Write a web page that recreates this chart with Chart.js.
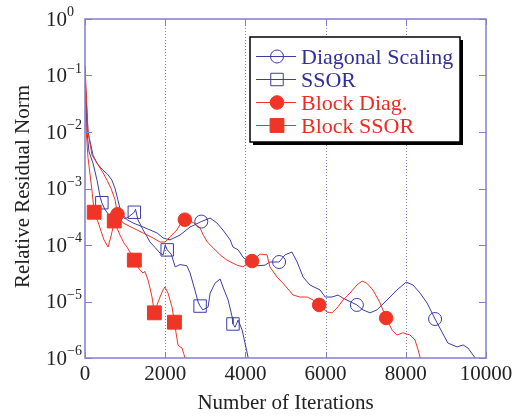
<!DOCTYPE html>
<html>
<head>
<meta charset="utf-8">
<script src="https://cdn.jsdelivr.net/npm/chart.js@4.4.1/dist/chart.umd.min.js"></script>
<style>
  html, body { margin: 0; padding: 0; background: #fff; }
</style>
</head>
<body>
<canvas id="chartArea" width="520" height="416"></canvas>
<script>
// Convergence history: iteration count vs. relative residual norm
var diagIter  = [0, 75, 200, 300, 450, 560, 670, 750, 820, 870, 950, 1050, 1200, 1450, 1800, 1950, 2120, 2370, 2620, 2900,
                 3120, 3290, 3440, 3620, 3690, 3820, 3940, 4115, 4315, 4490, 4610, 4840, 4990, 5160, 5290, 5440, 5610, 5860,
                 5990, 6160, 6310, 6430, 6780, 6930, 7110, 7280, 7530, 7780, 8010, 8180, 8355, 8530, 8730, 8900, 9050, 9280,
                 9430, 9550, 9730, 9780];
var diagResid = [0.1, 1.0e-2, 3.9e-3, 2.8e-3, 2.1e-3, 1.8e-3, 1.41e-3, 1.0e-3, 6.3e-4, 4.5e-4, 3.4e-4, 2.8e-4, 2.45e-4, 2.08e-4,
                 1.63e-4, 1.33e-4, 1.23e-4, 1.5e-4, 2.08e-4, 2.6e-4, 3.0e-4, 2.45e-4, 1.84e-4, 1.23e-4, 9.2e-5, 8.2e-5, 6.1e-5,
                 4.8e-5, 4.3e-5, 4.4e-5, 5.0e-5, 5.0e-5, 6.7e-5, 7.5e-5, 5.0e-5, 2.7e-5, 1.96e-5, 1.6e-5, 1.2e-5, 1.2e-5, 1.3e-5,
                 1.15e-5, 8.7e-6, 7.1e-6, 6.3e-6, 7.1e-6, 1.06e-5, 1.6e-5, 2.2e-5, 1.96e-5, 1.41e-5, 9.4e-6, 4.9e-6, 2.9e-6,
                 1.84e-6, 1.57e-6, 1.7e-6, 1.5e-6, 1.0e-6, 8e-7];
var diagMarks = [2900, 4840, 6780, 8730];

var ssorIter  = [0, 50, 100, 200, 300, 380, 420, 500, 600, 700, 800, 900, 1000, 1100, 1230, 1260, 1320, 1450, 1550, 1620, 1750,
                 1870, 1950, 2000, 2050, 2150, 2250, 2370, 2540, 2620, 2740, 2820, 2870, 2940, 3070, 3120, 3240, 3370, 3440,
                 3570, 3670, 3690, 3740, 3820, 3920, 3990, 4065, 4100];
var ssorResid = [0.1, 1.0e-2, 4.5e-3, 2.8e-3, 1.4e-3, 7e-4, 5.6e-4, 4.2e-4, 3.4e-4, 2.8e-4, 3.0e-4, 3.4e-4, 2.9e-4, 3.2e-4,
                 3.8e-4, 4.3e-4, 2.8e-4, 1.84e-4, 1.4e-4, 1.13e-4, 9e-5, 7.2e-5, 6.7e-5, 1.0e-4, 8.2e-5, 6.9e-5, 4.1e-5, 4.5e-5,
                 4.3e-5, 3.2e-5, 1.6e-5, 9.8e-6, 8.3e-6, 7.1e-6, 8.0e-6, 1.4e-5, 2.1e-5, 2.5e-5, 1.81e-5, 1.06e-5, 5.3e-6,
                 4.0e-6, 3.5e-6, 4.7e-6, 3.1e-6, 1.84e-6, 1.04e-6, 8e-7];
var ssorMarks = [420, 1230, 2050, 2870, 3690];

var bdiagIter  = [0, 75, 175, 300, 450, 550, 650, 750, 810, 950, 1200, 1450, 1700, 1870, 2000, 2120, 2290, 2420, 2490, 2700,
                  2870, 2950, 3050, 3190, 3370, 3540, 3790, 3940, 4060, 4165, 4365, 4540, 4610, 4790, 4940, 5190, 5360, 5540,
                  5690, 5840, 6035, 6160, 6285, 6435, 6610, 6780, 6910, 7030, 7180, 7360, 7510, 7660, 7780, 7930, 8105, 8230,
                  8305, 8355, 8380];
var bdiagResid = [0.15, 1.0e-2, 3.9e-3, 2.8e-3, 1.9e-3, 1.4e-3, 1.0e-3, 6.3e-4, 3.5e-4, 2.45e-4, 2.0e-4, 1.63e-4, 1.33e-4,
                  1.13e-4, 1.13e-4, 1.39e-4, 1.84e-4, 2.66e-4, 2.8e-4, 2.5e-4, 2.0e-4, 1.5e-4, 1.13e-4, 9.0e-5, 6.7e-5, 5.4e-5,
                  4.4e-5, 4.1e-5, 4.8e-5, 5.2e-5, 6.9e-5, 6.7e-5, 4.1e-5, 2.7e-5, 2.1e-5, 1.3e-5, 1.2e-5, 1.2e-5, 1.06e-5,
                  8.7e-6, 6.5e-6, 6.3e-6, 7.7e-6, 1.06e-5, 1.41e-5, 1.96e-5, 2.3e-5, 2.1e-5, 1.6e-5, 9.4e-6, 5.1e-6, 3.1e-6,
                  2.55e-6, 2.8e-6, 2.55e-6, 2.08e-6, 1.4e-6, 1.04e-6, 8e-7];
var bdiagMarks = [810, 2490, 4165, 5840, 7510];

var bssorIter  = [0, 25, 75, 125, 175, 230, 300, 374, 474, 574, 624, 673, 730, 798, 873, 973, 1047, 1122, 1230, 1297, 1372,
                  1447, 1496, 1571, 1621, 1671, 1730, 1796, 1870, 1945, 1995, 2070, 2120, 2170, 2230, 2270, 2319, 2369, 2419,
                  2470, 2520];
var bssorResid = [0.15, 1.2e-2, 3.5e-3, 1.8e-3, 9e-4, 3.8e-4, 2.9e-4, 2.0e-4, 1.23e-4, 9.2e-5, 1.23e-4, 1.7e-4, 2.66e-4,
                  2.0e-4, 1.5e-4, 1.08e-4, 9.2e-5, 7.5e-5, 5.4e-5, 4.25e-5, 3.6e-5, 3.2e-5, 3.4e-5, 2.4e-5, 1.73e-5, 1.2e-5,
                  6.3e-6, 8.7e-6, 1.2e-5, 1.6e-5, 1.81e-5, 1.41e-5, 1.06e-5, 8.0e-6, 4.3e-6, 2.8e-6, 1.7e-6, 1.57e-6, 1.5e-6,
                  1.15e-6, 8e-7];
var bssorMarks = [230, 730, 1230, 1730, 2230];

var xTicks = [0, 2000, 4000, 6000, 8000, 10000];
var yExponents = [0, -1, -2, -3, -4, -5, -6];
var xTitle = 'Number of Iterations';
var yTitle = 'Relative Residual Norm';

var blue = '#3c3ca6';
var red = '#ee3526';
var frameColor = '#8080c8';
var serif = '"Liberation Serif", "Times New Roman", serif';

var series = [
  { label: 'Diagonal Scaling', iters: diagIter, vals: diagResid, marks: diagMarks, color: blue, text: '#30309a', style: 'circle', radius: 6.5, filled: false },
  { label: 'SSOR', iters: ssorIter, vals: ssorResid, marks: ssorMarks, color: blue, text: '#30309a', style: 'rect', radius: 8.8, filled: false },
  { label: 'Block Diag.', iters: bdiagIter, vals: bdiagResid, marks: bdiagMarks, color: red, text: '#ee2b23', style: 'circle', radius: 6.8, filled: true },
  { label: 'Block SSOR', iters: bssorIter, vals: bssorResid, marks: bssorMarks, color: red, text: '#ee2b23', style: 'rect', radius: 9.8, filled: true }
];

function toPoints(iters, vals) {
  return iters.map(function(it, i) { return { x: it, y: vals[i] }; });
}

// marker points sit on the curve, so look up the value at each marked iteration
function markPoints(s) {
  return s.marks.map(function(m) { return { x: m, y: s.vals[s.iters.indexOf(m)] }; });
}

var datasets = [];
series.forEach(function(s, k) {
  var red_ = s.color === red;
  datasets.push({
    label: s.label,
    data: toPoints(s.iters, s.vals),
    borderColor: s.color,
    borderWidth: 1,
    pointRadius: 0,
    tension: 0,
    fill: false,
    order: red_ ? 2 : 3
  });
  datasets.push({
    label: s.label + ' marks',
    data: markPoints(s),
    showLine: false,
    pointStyle: s.style,
    pointRadius: s.radius,
    pointBorderWidth: 1,
    pointBorderColor: s.color,
    pointBackgroundColor: s.filled ? s.color : 'rgba(0,0,0,0)',
    order: red_ ? 0 : 1
  });
});

function drawMarker(ctx, s, x, y) {
  ctx.save();
  ctx.lineWidth = 1;
  ctx.strokeStyle = s.color;
  ctx.fillStyle = s.color;
  ctx.beginPath();
  if (s.style === 'circle') {
    ctx.arc(x, y, s.radius, 0, Math.PI * 2);
  } else {
    var h = s.radius / Math.SQRT2;
    ctx.rect(x - h, y - h, 2 * h, 2 * h);
  }
  if (s.filled) ctx.fill();
  ctx.stroke();
  ctx.restore();
}

var decor = {
  id: 'decor',
  beforeDatasetsDraw: function(chart) {
    var ctx = chart.ctx, a = chart.chartArea, xs = chart.scales.x;
    ctx.save();
    ctx.strokeStyle = frameColor;
    ctx.lineWidth = 1;
    ctx.setLineDash([1, 2]);
    xTicks.forEach(function(t) {
      if (t <= 0 || t >= 10000) return;
      var px = Math.round(xs.getPixelForValue(t)) + 0.5;
      ctx.beginPath();
      ctx.moveTo(px, a.top);
      ctx.lineTo(px, a.bottom);
      ctx.stroke();
    });
    ctx.restore();
  },
  afterDatasetsDraw: function(chart) {
    var ctx = chart.ctx, a = chart.chartArea, xs = chart.scales.x, ys = chart.scales.y;
    ctx.save();

    // frame and inward tick marks
    ctx.strokeStyle = frameColor;
    ctx.lineWidth = 1.5;
    ctx.strokeRect(a.left, a.top, a.right - a.left, a.bottom - a.top);
    ctx.lineWidth = 1;
    ctx.beginPath();
    yExponents.forEach(function(e) {
      var py = Math.round(ys.getPixelForValue(Math.pow(10, e))) + 0.5;
      ctx.moveTo(a.left, py); ctx.lineTo(a.left + 7, py);
      ctx.moveTo(a.right, py); ctx.lineTo(a.right - 7, py);
    });
    xTicks.forEach(function(t) {
      var px = Math.round(xs.getPixelForValue(t)) + 0.5;
      ctx.moveTo(px, a.bottom); ctx.lineTo(px, a.bottom - 6);
      ctx.moveTo(px, a.top); ctx.lineTo(px, a.top + 6);
    });
    ctx.stroke();

    // tick labels
    ctx.fillStyle = '#222';
    yExponents.forEach(function(e) {
      var py = ys.getPixelForValue(Math.pow(10, e));
      ctx.font = '21px ' + serif;
      ctx.textAlign = 'right';
      ctx.textBaseline = 'middle';
      ctx.fillText('10', 67, py + 1);
      ctx.font = '14px ' + serif;
      ctx.textAlign = 'left';
      ctx.textBaseline = 'alphabetic';
      ctx.fillText(e === 0 ? '0' : '\u2212' + (-e), 67, py - 3);
    });
    ctx.font = '21px ' + serif;
    ctx.textAlign = 'center';
    ctx.textBaseline = 'middle';
    xTicks.forEach(function(t) {
      ctx.fillText(String(t), xs.getPixelForValue(t), a.bottom + 16);
    });

    // axis titles
    ctx.textBaseline = 'alphabetic';
    ctx.fillText(xTitle, (a.left + a.right) / 2, 409);
    ctx.save();
    ctx.translate(29, (a.top + a.bottom) / 2 - 2);
    ctx.rotate(-Math.PI / 2);
    ctx.fillText(yTitle, 0, 0);
    ctx.restore();

    // legend box with drop shadow
    var bx = 250, by = 37, bw = 210, bh = 105;
    ctx.fillStyle = '#000';
    ctx.fillRect(bx + 3, by + 3, bw, bh);
    ctx.fillStyle = '#fff';
    ctx.fillRect(bx, by, bw, bh);
    ctx.strokeStyle = '#000';
    ctx.lineWidth = 1.5;
    ctx.strokeRect(bx, by, bw, bh);

    ctx.font = '22px ' + serif;
    ctx.textAlign = 'left';
    series.forEach(function(s, i) {
      var y = 56.5 + i * 23;
      ctx.strokeStyle = s.color;
      ctx.lineWidth = 1;
      ctx.beginPath();
      ctx.moveTo(256, y);
      ctx.lineTo(296, y);
      ctx.stroke();
      drawMarker(ctx, s, 277, y);
      ctx.fillStyle = s.text;
      ctx.fillText(s.label, 301, y + 7);
    });
    ctx.restore();
  }
};

var ctx = document.getElementById('chartArea').getContext('2d');
window.residualChart = new Chart(ctx, {
  type: 'line',
  data: { datasets: datasets },
  options: {
    responsive: false,
    animation: false,
    layout: { padding: { left: 85, top: 19, right: 34, bottom: 58 } },
    plugins: { legend: { display: false }, tooltip: { enabled: false } },
    scales: {
      x: { type: 'linear', min: 0, max: 10000, display: false },
      y: { type: 'logarithmic', min: 1e-6, max: 1, display: false }
    }
  },
  plugins: [decor]
});
</script>
</body>
</html>
